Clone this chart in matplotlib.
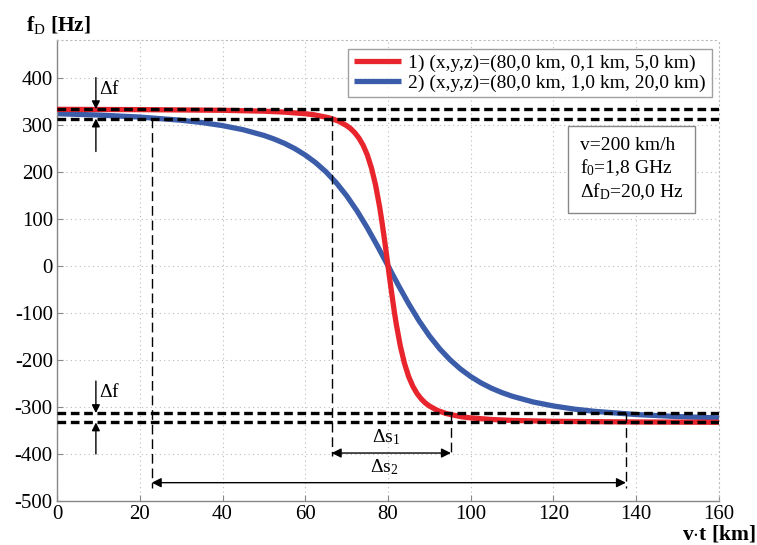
import numpy as np
import matplotlib
matplotlib.use('Agg')
import matplotlib.pyplot as plt

plt.rcParams.update({
    'font.family': 'serif', 'font.serif': ['Liberation Serif', 'DejaVu Serif'],
    'mathtext.fontset': 'custom', 'mathtext.rm': 'Liberation Serif',
    'mathtext.it': 'Liberation Serif', 'mathtext.bf': 'Liberation Serif:bold',
    'mathtext.default': 'rm', 'axes.unicode_minus': False,
})

C_RED, C_BLUE = '#e8252c', '#3b5ca9'

# curve 1: (x,y,z) = (80,0 km, 0,1 km, 5,0 km)
t_red = [0, 20, 40, 50, 55, 60, 62, 65, 66, 68, 70, 71, 72, 73, 74, 75, 76, 77, 78, 78.5, 79, 79.5, 80,
         80.5, 81, 81.5, 82, 83, 84, 85, 86, 87, 88, 89, 90, 92, 94, 95, 98, 100, 105, 110, 120, 140, 160]
f_red = [332.6, 332.0, 330.6, 328.7, 326.7, 323.3, 321.2, 316.0, 313.9, 307.7, 298.0, 291.4, 282.6, 271.2,
         256.0, 235.7, 208.0, 171.5, 124.0, 95.8, 65.0, 33.2, 0.0,
         -33.2, -65.0, -95.8, -124.0, -171.5, -208.0, -235.7, -256.0, -271.2, -282.6, -291.4, -298.0,
         -307.7, -313.9, -316.0, -321.2, -323.3, -326.7, -328.7, -330.6, -332.0, -332.6]

# curve 2: (x,y,z) = (80,0 km, 1,0 km, 20,0 km)
t_blue = [0, 10, 20, 30, 35, 40, 45, 50, 52.5, 55, 57.5, 60, 62.5, 65, 67.5, 70, 72.5, 75, 77.5, 80,
          82.5, 85, 87.5, 90, 92.5, 95, 97.5, 100, 102.5, 105, 107.5, 110, 115, 120, 125, 130, 140, 150, 160]
f_blue = [323.3, 320.5, 316.2, 309.4, 304.6, 298.0, 289.3, 277.2, 269.4, 260.2, 249.0, 235.5, 219.3,
          199.8, 176.5, 148.9, 116.9, 80.7, 41.3, 0.0,
          -41.3, -80.7, -116.9, -148.9, -176.5, -199.8, -219.3, -235.5, -249.0, -260.2, -269.4,
          -277.2, -289.3, -298.0, -304.6, -309.4, -316.2, -320.5, -323.3]

band_levels = [333, 313, -313, -333]
# vertical markers: (x position, top, bottom)
markers = [(22.9, 315, -472), (66.4, 318, -405), (95.2, -313, -405), (137.5, -313, -472)]
ds1 = (66.4, 95.2, -398)
ds2 = (22.9, 137.5, -461)

fig = plt.figure(figsize=(7.57, 5.45), dpi=100)
ax = fig.add_axes([0.0753, 0.0807, 0.8745, 0.8459])

ax.plot(t_red, f_red, color=C_RED, lw=3.8, solid_capstyle='butt', solid_joinstyle='round', zorder=3,
        label='1) (x,y,z)=(80,0 km, 0,1 km, 5,0 km)')
ax.plot(t_blue, f_blue, color=C_BLUE, lw=3.8, solid_capstyle='butt', solid_joinstyle='round', zorder=2,
        label='2) (x,y,z)=(80,0 km, 1,0 km, 20,0 km)')

for lvl in band_levels:
    ax.plot([0, 160], [lvl, lvl], color='black', lw=2.4, dashes=(2.6, 1.4), zorder=4)

for xm, top, bot in markers:
    ax.plot([xm, xm], [top, bot], color='black', lw=1.0, dashes=(7, 3.5), zorder=4)

for x0, x1, yy in (ds1, ds2):
    ax.annotate('', xy=(x0, yy), xytext=(x1, yy),
                arrowprops=dict(arrowstyle='<|-|>', color='black', lw=1.0,
                                mutation_scale=14, shrinkA=0, shrinkB=0), zorder=5)
ax.text(79.5, ds1[2] + 12, r'$\Delta$s$_1$', ha='center', va='bottom', fontsize=14)
ax.text(79.0, ds2[2] + 12, r'$\Delta$s$_2$', ha='center', va='bottom', fontsize=14)

# delta f arrows
xf = 9.4
for top_lvl, bot_lvl, y_up, y_dn, ylab in [(333, 313, 400, 243, 375), (-313, -333, -245, -400, -268)]:
    ax.annotate('', xy=(xf, top_lvl), xytext=(xf, y_up),
                arrowprops=dict(arrowstyle='-|>', color='black', lw=1.0, mutation_scale=12,
                                shrinkA=0, shrinkB=0), zorder=5)
    ax.annotate('', xy=(xf, bot_lvl), xytext=(xf, y_dn),
                arrowprops=dict(arrowstyle='-|>', color='black', lw=1.0, mutation_scale=12,
                                shrinkA=0, shrinkB=0), zorder=5)
    ax.text(xf + 0.8, ylab, r'$\Delta$f', ha='left', va='center', fontsize=14)

ax.set_xlim(0, 160)
ax.set_ylim(-500, 480)
ax.set_xticks(np.arange(0, 161, 20))
ax.set_yticks(np.arange(-500, 401, 100))
ax.tick_params(direction='in', color='#888888', labelsize=15, length=4, pad=3)
ax.grid(True, color='#bbbbbb', ls=(0, (1, 3)), lw=0.8)
for s in ('left', 'bottom'):
    ax.spines[s].set_color('#888888')
    ax.spines[s].set_linewidth(1.0)
for s in ('top', 'right'):
    ax.spines[s].set_color('#bbbbbb')
    ax.spines[s].set_linestyle((0, (1, 3)))
    ax.spines[s].set_linewidth(0.8)

leg = ax.legend(loc='upper right', bbox_to_anchor=(0.995, 0.99), fontsize=14, frameon=True,
                fancybox=False, edgecolor='#888888', handlelength=2.4, borderpad=0.3,
                labelspacing=0.1, handletextpad=0.4, borderaxespad=0.2)
leg.get_frame().set_linewidth(1.0)

ax.text(0.79, 0.72, 'v=200 km/h\nf$_0$=1,8 GHz\n$\\Delta$f$_D$=20,0 Hz', transform=ax.transAxes,
        ha='left', va='center', fontsize=14, linespacing=1.2,
        bbox=dict(boxstyle='square,pad=0.6', fc='white', ec='#888888', lw=1.0), zorder=6)

fig.text(0.035, 0.955, r'f$_D$ [Hz]', fontsize=15.5, fontweight='bold', ha='left', va='center')
fig.text(0.998, 0.0, r'v$\cdot$t [km]', fontsize=15.5, fontweight='bold', ha='right', va='bottom')

fig.savefig('out.png', dpi=100)
